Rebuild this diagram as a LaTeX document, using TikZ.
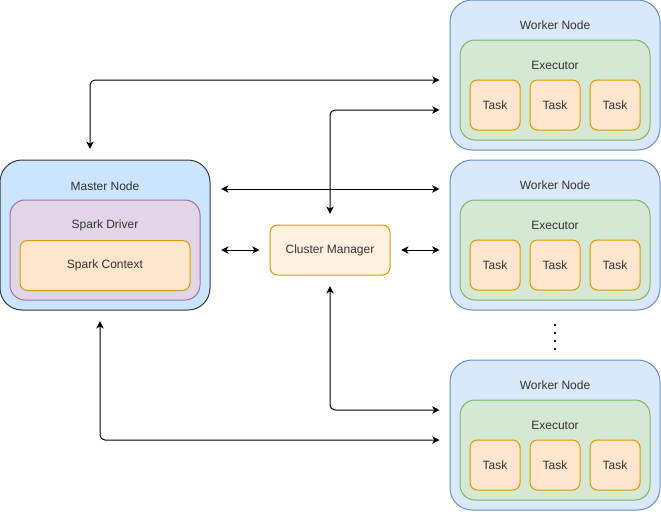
\documentclass[tikz,border=0pt]{standalone}
\usepackage{fontspec}
\setmainfont{Liberation Sans}
\usepackage{tikz}
\usetikzlibrary{arrows.meta}

\definecolor{masterfill}{HTML}{CCE5FF}
\definecolor{masterline}{HTML}{36393D}
\definecolor{workerfill}{HTML}{DAE8FC}
\definecolor{workerline}{HTML}{6C8EBF}
\definecolor{execfill}{HTML}{D5E8D4}
\definecolor{execline}{HTML}{82B366}
\definecolor{taskfill}{HTML}{FFE6CC}
\definecolor{taskline}{HTML}{D79B00}
\definecolor{driverfill}{HTML}{E1D5E7}
\definecolor{driverline}{HTML}{9673A6}
\definecolor{cmfill}{HTML}{FFF2E2}
\definecolor{txt}{HTML}{333333}

\tikzset{
  box/.style={draw, line width=0.75pt, inner sep=0pt, text=txt,
    font=\fontsize{9}{11}\selectfont},
  boxlabel/.style={text=txt, font=\fontsize{9}{11}\selectfont, inner sep=0pt},
  link/.style={line width=0.75pt, rounded corners=3.75pt,
    {Stealth[length=5.5pt,width=5.5pt,inset=1.6pt]}-{Stealth[length=5.5pt,width=5.5pt,inset=1.6pt]},
    shorten <=8pt, shorten >=7.5pt},
}

\begin{document}
\begin{tikzpicture}[x=0.75pt,y=0.75pt,yscale=-1,xscale=1]
\useasboundingbox (0,0) rectangle (661,511);

% Master node
\node [box, fill=masterfill, draw=masterline, rounded corners=16.5pt,
  minimum width=157.5pt, minimum height=112.5pt,
  label={[boxlabel, anchor=center, yshift=-20pt]north:Master Node}] (master) at (105,235) {};
\node [box, fill=driverfill, draw=driverline, rounded corners=11.25pt,
  minimum width=142.5pt, minimum height=75pt,
  label={[boxlabel, anchor=center, yshift=-19.5pt]north:Spark Driver}] (driver) at (105,250) {};
\node [box, fill=taskfill, draw=taskline, rounded corners=5.6pt,
  minimum width=127.5pt, minimum height=37.5pt] (context) at (105,265.5) {Spark Context};

% Cluster manager
\node [box, fill=cmfill, draw=taskline, rounded corners=5.6pt,
  minimum width=90pt, minimum height=37.5pt] (cm) at (330,250) {Cluster Manager};

% Worker nodes
\foreach \n/\y in {1/0,2/160,3/360}{
  \node [box, fill=workerfill, draw=workerline, rounded corners=16.5pt,
    minimum width=157.5pt, minimum height=112.5pt,
    label={[boxlabel, anchor=center, yshift=-19.5pt]north:Worker Node}] (w\n) at (555,\y+75) {};
  \node [box, fill=execfill, draw=execline, rounded corners=11.25pt,
    minimum width=142.5pt, minimum height=75pt,
    label={[boxlabel, anchor=center, yshift=-19.5pt]north:Executor}] (ex\n) at (555,\y+90) {};
  \foreach \j/\x in {1/495,2/555,3/615}
    \node [box, fill=taskfill, draw=taskline, rounded corners=5.6pt,
      minimum width=37.5pt, minimum height=37.5pt] (t\n-\j) at (\x,\y+105) {Task};
}

% dots between workers
\foreach \d in {325,333,341,349}
  \fill (555,\d) circle (1.3);

% connectors
\draw [link] (master.north -| 90,0) |- (w1.west |- 0,80);
\draw [link] (cm.north) |- (w1.west |- 0,110);
\draw [link] (master.east |- 0,189) -- (w2.west |- 0,189);
\draw [link] (master.east |- cm.west) -- (cm.west);
\draw [link] (cm.east) -- (w2.west |- cm.east);
\draw [link] (cm.south) |- (w3.west |- 0,410);
\draw [link] (master.south -| 100,0) |- (w3.west |- 0,440);

\end{tikzpicture}
\end{document}
